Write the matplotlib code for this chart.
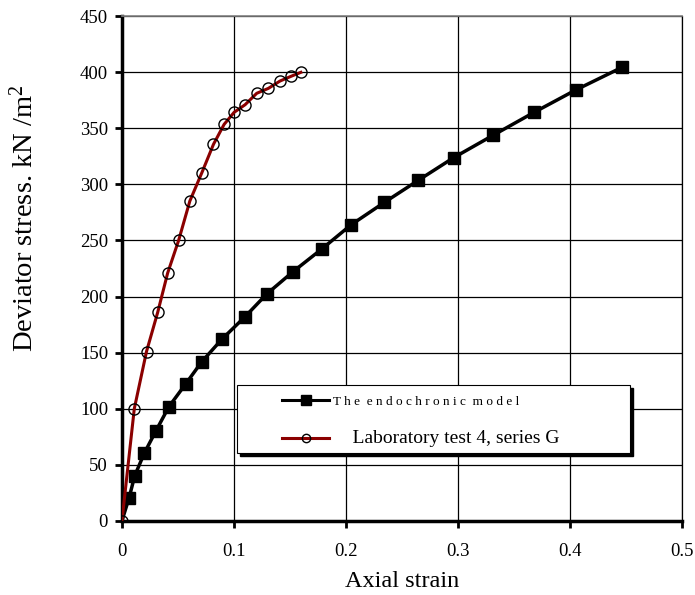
import matplotlib
matplotlib.use("Agg")
import matplotlib.pyplot as plt
from matplotlib.lines import Line2D
from matplotlib.patches import Rectangle
from matplotlib.transforms import offset_copy

# Endochronic model (black squares)
model_strain = [0.0, 0.0063, 0.0114, 0.020, 0.0304, 0.0419, 0.0568, 0.0711, 0.0891,
                0.1096, 0.1292, 0.1524, 0.1784, 0.2046, 0.2343, 0.2646, 0.296,
                0.3316, 0.3679, 0.405, 0.4465]
model_stress = [0, 20.2, 40.1, 60.4, 80.3, 101.7, 121.9, 141.6, 161.8, 181.7, 202.2,
                221.9, 242.4, 264, 284, 303.7, 323.8, 344, 364.3, 384.2, 404.5]

# Laboratory test 4, series G (red line, open circles)
lab_strain = [0.0, 0.011, 0.0219, 0.0319, 0.0408, 0.0506, 0.0606, 0.0713, 0.0817,
              0.0912, 0.1001, 0.1099, 0.1203, 0.1307, 0.141, 0.1508, 0.1597]
lab_stress = [0, 99.9, 150.9, 185.9, 221, 250.1, 285.2, 310.4, 335.8, 353.6, 364.3,
              371.1, 381.3, 385.7, 392.2, 396.4, 400.0]

x_ticks = [0, 0.1, 0.2, 0.3, 0.4, 0.5]
x_ticklabels = ["0", "0.1", "0.2", "0.3", "0.4", "0.5"]
y_ticks = [0, 50, 100, 150, 200, 250, 300, 350, 400, 450]

plt.rcParams['font.family'] = ['Liberation Serif', 'DejaVu Serif']
plt.rcParams['mathtext.fontset'] = 'custom'
plt.rcParams['mathtext.rm'] = 'Liberation Serif'
plt.rcParams['mathtext.it'] = 'Liberation Serif:italic'
plt.rcParams['mathtext.bf'] = 'Liberation Serif:bold'

fig = plt.figure(figsize=(6.95, 5.95), dpi=100)
ax = fig.add_axes([0.1755, 0.1249, 0.9813 - 0.1755, 0.9726 - 0.1249])

ax.set_xlim(0, 0.5)
ax.set_ylim(0, 450)
ax.set_xticks(x_ticks)
ax.set_xticklabels(x_ticklabels)
ax.set_yticks(y_ticks)
ax.grid(True, color='black', linewidth=0.9)
ax.set_axisbelow(True)

ax.spines['top'].set_color('#808080')
ax.spines['top'].set_linewidth(1.2)
ax.spines['right'].set_color('black')
ax.spines['right'].set_linewidth(0.9)
ax.spines['left'].set_linewidth(2.5)
ax.spines['bottom'].set_linewidth(2.5)

ax.tick_params(axis='both', direction='out', length=5, width=2, labelsize=13.5,
               colors='black')
ax.tick_params(axis='x', pad=11)
ax.tick_params(axis='y', pad=5)

ax.plot(model_strain, model_stress, color='black', linewidth=2.5, marker='s',
        markersize=8.5, markerfacecolor='black', markeredgecolor='black', zorder=3,
        markevery=list(range(1, len(model_strain))))
ax.plot(lab_strain, lab_stress, color='#8B0000', linewidth=2.2, marker='o',
        markersize=8, markerfacecolor='none', markeredgecolor='black',
        markeredgewidth=1.0, zorder=4)

ax.set_xlabel("Axial strain", fontsize=17.5, labelpad=8)
ax.set_ylabel("Deviator stress. kN /m$^\\mathrm{2}$", fontsize=20.5)
ax.yaxis.set_label_coords(-0.148, 0.60)

# legend box with shadow
box_kw = dict(transform=ax.transAxes, clip_on=False)
shadow = Rectangle((0.2054, 0.1347), 0.7018, 0.1347, facecolor='black',
                   edgecolor='black', zorder=5,
                   transform=offset_copy(ax.transAxes, fig=fig, x=3, y=-3, units='dots'),
                   clip_on=False)
ax.add_patch(shadow)
frame = Rectangle((0.2054, 0.1347), 0.7018, 0.1347, facecolor='white',
                  edgecolor='black', linewidth=0.8, zorder=6, **box_kw)
ax.add_patch(frame)

handles = [
    Line2D([0], [0], color='black', linewidth=2.2, marker='s', markersize=7),
    Line2D([0], [0], color='#8B0000', linewidth=2.2, marker='o', markersize=6,
           markerfacecolor='none', markeredgecolor='black'),
]
labels = ["T h e  e n d o c h r o n i c  m o d e l", "    Laboratory test 4, series G"]
leg = ax.legend(handles, labels, loc='center left',
                bbox_to_anchor=(0.2857, 0.198), frameon=False,
                handlelength=3.4, handletextpad=0.3,
                borderpad=0, labelspacing=1.6, borderaxespad=0)
leg.set_zorder(7)
leg.get_texts()[0].set_fontsize(9.5)
leg.get_texts()[1].set_fontsize(14)

fig.savefig("out.png", dpi=100)
